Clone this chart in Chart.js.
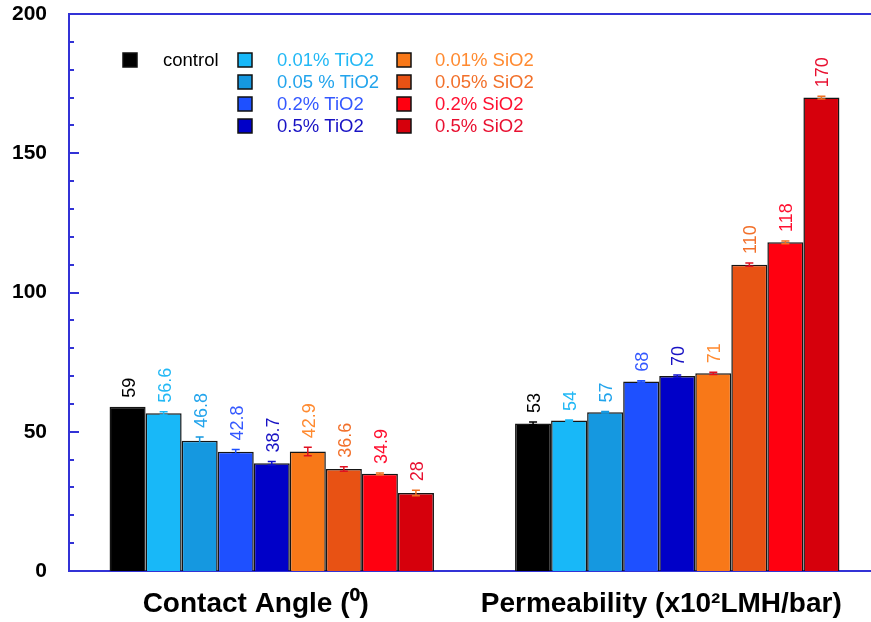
<!DOCTYPE html>
<html>
<head>
<meta charset="utf-8">
<script src="https://cdn.jsdelivr.net/npm/chart.js@4/dist/chart.umd.min.js"></script>
<style>
  html, body { margin: 0; padding: 0; overflow: hidden; background: #fff; }
  #wrap { width: 900px; height: 622px; }
</style>
</head>
<body>
<div id="wrap"><canvas id="c" width="900" height="622"></canvas></div>
<script>
// Property groups on the x axis
const categories = ['Contact Angle (\u2070)', 'Permeability (x10\u00B2LMH/bar)'];

// Membrane series
const seriesNames = ['control', '0.01% TiO2', '0.05 % TiO2', '0.2% TiO2', '0.5% TiO2',
                     '0.01% SiO2', '0.05% SiO2', '0.2% SiO2', '0.5% SiO2'];

// Contact angle (degrees) and its spread
const contactAngle = [59, 56.6, 46.8, 42.8, 38.7, 42.9, 36.6, 34.9, 28];
const contactErr   = [0, 0.6, 1.3, 0.8, 0.6, 1.5, 0.8, 0.3, 1.0];

// Permeability (x10^2 LMH/bar) and its spread
const permeability = [53, 54, 57, 68, 70, 71, 110, 118, 170];
const permErr      = [0.5, 0.2, 0.3, 0.3, 0.4, 0.4, 0.6, 0.5, 0.5];

// Y axis tick labels
const yTicks = [0, 50, 100, 150, 200];

// Colours
const barColors   = ['#000000', '#18b8f8', '#1598e0', '#1e50ff', '#0000c8',
                     '#f87818', '#e85214', '#ff0010', '#d6000c'];
const textColors  = ['#000000', '#22b8f5', '#22a4ec', '#3458ff', '#1812c4',
                     '#ff8a30', '#f2702a', '#ff1030', '#e81030'];
const errColors   = ['#000000', '#18b8f8', '#1598e0', '#1e50ff', '#1010d0',
                     '#e01020', '#e01020', '#f07020', '#f07020'];

const AXIS_BLUE = '#3232d6';
const FONT = '"Liberation Sans", Arial, sans-serif';

const datasets = seriesNames.map((name, i) => ({
  label: name,
  data: [contactAngle[i], permeability[i]],
  errors: [contactErr[i], permErr[i]],
  backgroundColor: barColors[i],
  borderColor: '#151515',
  borderWidth: 1.5,
  barPercentage: 1.0,
  categoryPercentage: 0.8
}));

// Frame, inside ticks, error bars, value labels and the legend block
const decorations = {
  id: 'decorations',
  afterDatasetsDraw(chart) {
    const ctx = chart.ctx;
    const area = chart.chartArea;
    const y = chart.scales.y;

    ctx.save();
    // top frame line
    ctx.strokeStyle = AXIS_BLUE;
    ctx.lineWidth = 2;
    ctx.beginPath();
    ctx.moveTo(area.left, area.top);
    ctx.lineTo(area.right, area.top);
    ctx.stroke();

    // inward ticks on the value axis: major every 50, minor every 10
    for (let v = 0; v <= 200; v += 10) {
      const py = Math.round(y.getPixelForValue(v));
      const len = (v % 50 === 0) ? 10 : 5;
      ctx.beginPath();
      ctx.moveTo(area.left, py);
      ctx.lineTo(area.left + len, py);
      ctx.stroke();
    }

    // error bars and rotated value labels
    chart.data.datasets.forEach((ds, di) => {
      const meta = chart.getDatasetMeta(di);
      meta.data.forEach((bar, k) => {
        const val = ds.data[k];
        const err = ds.errors[k];
        const cx = bar.x;
        const top = y.getPixelForValue(val + err);
        if (err > 0) {
          const bot = y.getPixelForValue(val - err);
          ctx.strokeStyle = errColors[di];
          ctx.lineWidth = 1.5;
          ctx.beginPath();
          ctx.moveTo(cx, top); ctx.lineTo(cx, bot);
          ctx.moveTo(cx - 4, top); ctx.lineTo(cx + 4, top);
          ctx.moveTo(cx - 4, bot); ctx.lineTo(cx + 4, bot);
          ctx.stroke();
        }
        ctx.save();
        ctx.translate(cx + 2, Math.min(top, y.getPixelForValue(val)) - 9);
        ctx.rotate(-Math.PI / 2);
        ctx.fillStyle = textColors[di];
        ctx.font = '18px ' + FONT;
        ctx.textAlign = 'left';
        ctx.textBaseline = 'middle';
        ctx.fillText(String(val), 0, 0);
        ctx.restore();
      });
    });

    // legend: control alone, then TiO2 and SiO2 columns
    const cols = [
      { box: 123, text: 163, items: [0] },
      { box: 238, text: 277, items: [1, 2, 3, 4] },
      { box: 397, text: 435, items: [5, 6, 7, 8] }
    ];
    ctx.font = '18.5px ' + FONT;
    ctx.textBaseline = 'middle';
    ctx.textAlign = 'left';
    cols.forEach(col => {
      col.items.forEach((si, row) => {
        const cy = 60 + row * 22;
        ctx.fillStyle = barColors[si];
        ctx.fillRect(col.box, cy - 7, 14, 14);
        ctx.strokeStyle = '#111';
        ctx.lineWidth = 1.5;
        ctx.strokeRect(col.box, cy - 7, 14, 14);
        ctx.fillStyle = textColors[si];
        ctx.fillText(chart.data.datasets[si].label, col.text, cy + 1);
      });
    });
    ctx.restore();
  }
};

new Chart(document.getElementById('c'), {
  type: 'bar',
  data: { labels: categories, datasets },
  options: {
    responsive: false,
    animation: false,
    layout: { padding: { top: 14, right: 20, left: 0, bottom: 0 } },
    plugins: { legend: { display: false }, tooltip: { enabled: false } },
    scales: {
      x: {
        grid: { display: false, drawTicks: false },
        border: { color: AXIS_BLUE, width: 2 },
        ticks: {
          color: '#000',
          font: { family: FONT, size: 28, weight: 'bold' },
          padding: 16,
          labelOffset: -16,
          maxRotation: 0,
          autoSkip: false
        },
        afterFit(scale) { scale.height = 51; scale.paddingLeft = 0; scale.paddingRight = 0; }
      },
      y: {
        min: 0,
        max: 200,
        grid: { display: false, drawTicks: false },
        border: { color: AXIS_BLUE, width: 2 },
        afterBuildTicks(scale) { scale.ticks = yTicks.map(v => ({ value: v })); },
        ticks: {
          color: '#000',
          font: { family: FONT, size: 21, weight: 'bold' },
          padding: 22
        },
        afterFit(scale) { scale.width = 69; scale.paddingTop = 0; scale.paddingBottom = 0; }
      }
    }
  },
  plugins: [decorations]
});
</script>
</body>
</html>
